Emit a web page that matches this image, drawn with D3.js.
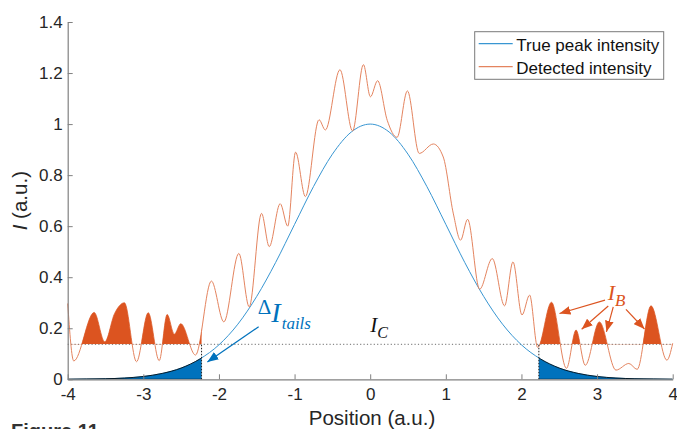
<!DOCTYPE html>
<html>
<head>
<meta charset="utf-8">
<script src="https://cdn.jsdelivr.net/npm/d3@7"></script>
<style>
  body { margin: 0; background: #fff; }
  svg { display: block; font-family: "Liberation Sans", Arial, sans-serif; }
</style>
</head>
<body>
<svg id="chart" width="677" height="429"></svg>
<script>
// true peak (every 0.25)
const trueX = [-4, -3.75, -3.5, -3.25, -3, -2.75, -2.5, -2.25, -2, -1.75, -1.5, -1.25, -1, -0.75, -0.5, -0.25,
  0, 0.25, 0.5, 0.75, 1, 1.25, 1.5, 1.75, 2, 2.25, 2.5, 2.75, 3, 3.25, 3.5, 3.75, 4];
const trueY = [0.000, 0.001, 0.002, 0.005, 0.011, 0.023, 0.044, 0.080, 0.135, 0.216, 0.325, 0.458, 0.607, 0.755, 0.882, 0.969,
  1.000, 0.969, 0.882, 0.755, 0.607, 0.458, 0.325, 0.216, 0.135, 0.080, 0.044, 0.023, 0.011, 0.005, 0.002, 0.001, 0.000];

// detected intensity (peaks, troughs and shoulders of the orange curve)
const detX = [-4.00, -3.92, -3.65, -3.51, -3.38, -3.25, -3.09, -2.935, -2.79, -2.685, -2.59, -2.505, -2.31,
  -2.10, -1.935, -1.737, -1.60, -1.437, -1.335, -1.19, -1.09, -0.987, -0.857, -0.677, -0.593, -0.40, -0.233,
  -0.09, 0.003, 0.098, 0.225, 0.355, 0.492, 0.648, 0.835, 0.966, 1.10, 1.195, 1.288, 1.447, 1.614, 1.777,
  1.888, 2.007, 2.108, 2.214, 2.397, 2.595, 2.722, 2.844, 3.03, 3.25, 3.42, 3.53, 3.713, 3.923, 4.00];
const detY = [0.297, 0.072, 0.262, 0.147, 0.258, 0.300, 0.069, 0.261, 0.073, 0.254, 0.177, 0.218, 0.095,
  0.385, 0.225, 0.493, 0.284, 0.650, 0.520, 0.688, 0.600, 0.890, 0.716, 1.017, 0.977, 1.213, 0.973,
  1.233, 1.107, 1.170, 1.015, 0.948, 1.130, 0.885, 0.922, 0.871, 0.648, 0.545, 0.627, 0.353, 0.473, 0.288,
  0.460, 0.252, 0.330, 0.125, 0.302, 0.043, 0.193, 0.055, 0.225, 0.036, 0.062, 0.039, 0.288, 0.075, 0.141];

const threshold = 0.137;
const tailCut = 2.23;
const bgStart = 3.95;

const xTicks = [-4, -3, -2, -1, 0, 1, 2, 3, 4];
const xTickLabels = ['-4', '-3', '-2', '-1', '0', '1', '2', '3', '4'];
const yTicks = [0, 0.2, 0.4, 0.6, 0.8, 1, 1.2, 1.4];
const yTickLabels = ['0', '0.2', '0.4', '0.6', '0.8', '1', '1.2', '1.4'];
const legendLabels = ['True peak intensity', 'Detected intensity'];

const blueLine = '#3896d2', orangeLine = '#e4845f';
const blueFill = '#0072bd', orangeFill = '#dc5420';
const axisGrey = '#808080', textGrey = '#262626';

const svg = d3.select('#chart');
const pLeft = 67.7, pRight = 672.7, pTop = 22, pBottom = 379.3;

const x = d3.scaleLinear().domain([-4, 4]).range([pLeft, pRight]);
const y = d3.scaleLinear().domain([0, 1.4]).range([pBottom, pTop]);

const truePts = trueX.map((d, i) => ({ x: d, v: trueY[i] }));
const detPts = detX.map((d, i) => ({ x: d, v: detY[i] }));

const defs = svg.append('defs');

// clip to the tails
const tailClip = defs.append('clipPath').attr('id', 'tails');
tailClip.append('rect')
  .attr('x', x(-4)).attr('y', pTop)
  .attr('width', x(-tailCut) - x(-4)).attr('height', pBottom - pTop);
tailClip.append('rect')
  .attr('x', x(tailCut)).attr('y', pTop)
  .attr('width', x(4) - x(tailCut)).attr('height', pBottom - pTop);

// clip for background peaks above I_C
const bgClip = defs.append('clipPath').attr('id', 'bg');
bgClip.append('rect')
  .attr('x', x(-bgStart)).attr('y', pTop)
  .attr('width', x(-tailCut) - x(-bgStart)).attr('height', y(threshold) - pTop);
bgClip.append('rect')
  .attr('x', x(tailCut)).attr('y', pTop)
  .attr('width', x(4) - x(tailCut)).attr('height', y(threshold) - pTop);

const marker = (id, col) => {
  defs.append('marker')
    .attr('id', id)
    .attr('viewBox', '0 0 10 8')
    .attr('refX', 10).attr('refY', 4)
    .attr('markerWidth', 11).attr('markerHeight', 9)
    .attr('markerUnits', 'userSpaceOnUse')
    .attr('orient', 'auto')
    .append('path').attr('d', 'M0,0L10,4L0,8Z').attr('fill', col);
};
marker('headBlue', blueFill);
marker('headOrange', orangeFill);

// I_C threshold
svg.append('line')
  .attr('x1', x(-4)).attr('x2', x(4))
  .attr('y1', y(threshold)).attr('y2', y(threshold))
  .attr('stroke', '#8a8a8a').attr('stroke-width', 1.2)
  .attr('stroke-dasharray', '1.2,2.2');

const line = d3.line().x(d => x(d.x)).y(d => y(d.v)).curve(d3.curveMonotoneX);

svg.append('path')
  .attr('d', line(truePts))
  .attr('fill', 'none').attr('stroke', blueLine).attr('stroke-width', 1);

svg.append('path')
  .attr('d', line(detPts))
  .attr('fill', 'none').attr('stroke', orangeLine).attr('stroke-width', 1);

// background peaks
svg.append('path')
  .attr('clip-path', 'url(#bg)')
  .attr('d', d3.area().x(d => x(d.x)).y0(y(threshold)).y1(d => y(d.v)).curve(d3.curveMonotoneX)(detPts))
  .attr('fill', orangeFill);

// tails of the true peak
svg.append('path')
  .attr('clip-path', 'url(#tails)')
  .attr('d', d3.area().x(d => x(d.x)).y0(y(0)).y1(d => y(d.v)).curve(d3.curveMonotoneX)(truePts))
  .attr('fill', blueFill).attr('stroke', '#000').attr('stroke-width', 0.8);

// cut lines
svg.selectAll('.cut')
  .data([-tailCut, tailCut])
  .enter().append('line')
    .attr('class', 'cut')
    .attr('x1', d => x(d)).attr('x2', d => x(d))
    .attr('y1', y(0)).attr('y2', y(threshold))
    .attr('stroke', '#222').attr('stroke-width', 1)
    .attr('stroke-dasharray', '1.5,1.5');

// axes
const xAxis = d3.axisBottom(x)
  .tickValues(xTicks)
  .tickFormat((d, i) => xTickLabels[i])
  .tickSizeInner(-5).tickSizeOuter(0).tickPadding(9);
const yAxis = d3.axisLeft(y)
  .tickValues(yTicks)
  .tickFormat((d, i) => yTickLabels[i])
  .tickSizeInner(-5).tickSizeOuter(0).tickPadding(5);

const gx = svg.append('g').attr('transform', `translate(0,${pBottom})`).call(xAxis);
const gy = svg.append('g').attr('transform', `translate(${pLeft},0)`).call(yAxis);
[gx, gy].forEach(g => {
  g.select('.domain').attr('stroke', axisGrey).attr('stroke-width', 1.2);
  g.selectAll('.tick line').attr('stroke', axisGrey).attr('stroke-width', 1);
  g.selectAll('.tick text')
    .attr('fill', textGrey)
    .style('font-size', '17px')
    .style('font-family', '"Liberation Sans", Arial, sans-serif');
});

svg.append('text')
  .attr('x', 372).attr('y', 424.5)
  .attr('text-anchor', 'middle')
  .attr('fill', textGrey)
  .style('font-size', '20.5px')
  .text('Position (a.u.)');

const ylab = svg.append('text')
  .attr('transform', `translate(27,${(pTop + pBottom) / 2}) rotate(-90)`)
  .attr('text-anchor', 'middle')
  .attr('fill', textGrey)
  .style('font-size', '20.5px');
ylab.append('tspan').style('font-style', 'italic').text('I');
ylab.append('tspan').text(' (a.u.)');

// annotations
const mathFont = '"Liberation Serif", "DejaVu Serif", serif';

const dT = svg.append('text')
  .attr('x', x(-1.486)).attr('y', y(0.256))
  .attr('fill', blueFill)
  .style('font-family', mathFont);
dT.append('tspan').style('font-size', '21px').text('Δ');
dT.append('tspan').attr('dy', 8).style('font-size', '28px').style('font-style', 'italic').text('I');
dT.append('tspan').attr('dx', 1).attr('dy', 7).style('font-size', '17px').style('font-style', 'italic').text('tails');

svg.append('line')
  .attr('x1', x(-1.475)).attr('y1', y(0.206))
  .attr('x2', x(-2.153)).attr('y2', y(0.068))
  .attr('stroke', blueFill).attr('stroke-width', 1.2)
  .attr('marker-end', 'url(#headBlue)');

const ic = svg.append('text')
  .attr('x', x(0)).attr('y', y(0.185))
  .attr('fill', '#111')
  .style('font-family', mathFont);
ic.append('tspan').style('font-size', '21px').style('font-style', 'italic').text('I');
ic.append('tspan').attr('dy', 6).style('font-size', '16px').style('font-style', 'italic').text('C');

const ib = svg.append('text')
  .attr('x', x(3.14)).attr('y', y(0.31))
  .attr('fill', orangeFill)
  .style('font-family', mathFont);
ib.append('tspan').style('font-size', '22px').style('font-style', 'italic').text('I');
ib.append('tspan').attr('dy', 6).style('font-size', '17px').style('font-style', 'italic').text('B');

const ibArrows = [
  { x1: 3.105, y1: 0.310, x2: 2.503, y2: 0.258 },
  { x1: 3.148, y1: 0.287, x2: 2.796, y2: 0.196 },
  { x1: 3.214, y1: 0.284, x2: 3.124, y2: 0.186 },
  { x1: 3.382, y1: 0.274, x2: 3.627, y2: 0.197 }
];
svg.selectAll('.ibArrow')
  .data(ibArrows)
  .enter().append('line')
    .attr('class', 'ibArrow')
    .attr('x1', d => x(d.x1)).attr('y1', d => y(d.y1))
    .attr('x2', d => x(d.x2)).attr('y2', d => y(d.y2))
    .attr('stroke', orangeFill).attr('stroke-width', 1.2)
    .attr('marker-end', 'url(#headOrange)');

// legend
const lg = svg.append('g');
lg.append('rect')
  .attr('x', 474.7).attr('y', 31.7).attr('width', 189).attr('height', 47.6)
  .attr('fill', '#fff').attr('stroke', '#7a7a7a').attr('stroke-width', 1);
legendLabels.forEach((lab, i) => {
  const ly = 43.7 + i * 23;
  lg.append('line')
    .attr('x1', 478.7).attr('x2', 512.7).attr('y1', ly).attr('y2', ly)
    .attr('stroke', i === 0 ? blueLine : orangeLine).attr('stroke-width', 1.2);
  lg.append('text')
    .attr('x', 516.3).attr('y', ly + 7.3)
    .attr('fill', '#111')
    .style('font-size', '17px')
    .text(lab);
});

// caption peeking in at the bottom
svg.append('text')
  .attr('x', 11).attr('y', 438)
  .attr('fill', '#333')
  .style('font-size', '20px').style('font-weight', 'bold')
  .text('Figure 11');
</script>
</body>
</html>
